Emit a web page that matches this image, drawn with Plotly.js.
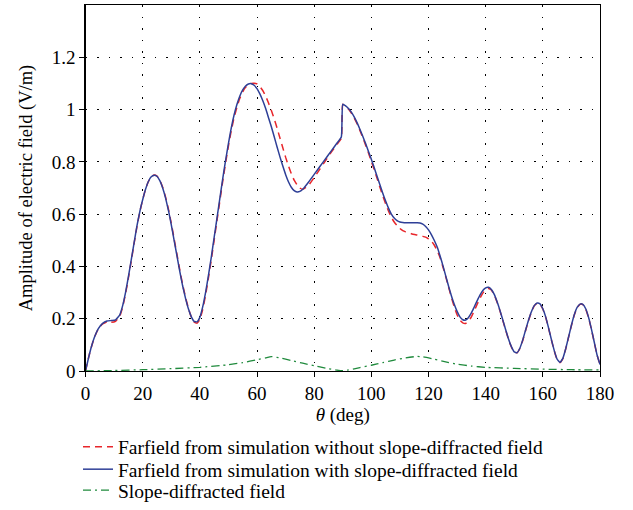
<!DOCTYPE html>
<html>
<head>
<meta charset="utf-8">
<script src="https://cdn.plot.ly/plotly-3.0.1.min.js"></script>
<style>html,body{margin:0;padding:0;background:#fff;}#chart{width:633px;height:510px;}</style>
</head>
<body>
<div id="chart"></div>
<script>
// Farfield with slope-diffracted field (blue, solid)
const thetaWith = [0,1.5,3,4.5,6,7.5,9,10.5,12,13,14,15,16,17,18,19,20,21,22,23,24,25,26,27,28,29,30,31,32,33,34,35,36,37,38,39,40,41,42,43,44,45,46,47,48,49,50,51,52,53,54,55,56,57,58,59,60,61,62,63,64,65,66,67,68,69,70,71,72,73,74,75,76,78,80,82,84,86,88,89.5,90,91,92,93,94,95,96,97,98,99,100,101,102,103,104,105,106,107,108,109,110,111,112,114,116,117,118,119,120,121,122,123,124,125,126,127,128,129,130,131,132,133,134,135,136,137,138,139,140,141,142,143,144,145,146,147,148,149,150,151,152,153,154,155,156,157,158,159,160,161,162,163,164,165,166,167,168,169,170,171,172,173,174,175,176,177,178,179,180];
const ampWith = [0,0.07,0.125,0.162,0.182,0.191,0.193,0.195,0.215,0.25,0.3,0.36,0.425,0.49,0.555,0.61,0.655,0.695,0.725,0.743,0.749,0.745,0.728,0.7,0.662,0.615,0.56,0.5,0.44,0.38,0.325,0.278,0.238,0.208,0.19,0.188,0.205,0.245,0.3,0.365,0.435,0.51,0.585,0.66,0.735,0.805,0.87,0.93,0.98,1.02,1.052,1.075,1.09,1.098,1.099,1.093,1.08,1.06,1.035,1.005,0.97,0.935,0.897,0.858,0.82,0.785,0.752,0.724,0.703,0.69,0.685,0.687,0.695,0.722,0.752,0.782,0.812,0.842,0.872,0.895,1.02,1.014,1.004,0.99,0.972,0.95,0.925,0.898,0.87,0.84,0.81,0.778,0.745,0.712,0.68,0.65,0.623,0.6,0.585,0.575,0.57,0.568,0.567,0.567,0.567,0.566,0.562,0.553,0.54,0.522,0.5,0.475,0.442,0.405,0.365,0.325,0.288,0.255,0.228,0.207,0.196,0.195,0.205,0.222,0.245,0.268,0.29,0.308,0.318,0.32,0.312,0.293,0.265,0.232,0.195,0.158,0.122,0.093,0.073,0.07,0.088,0.12,0.158,0.195,0.227,0.25,0.26,0.257,0.238,0.207,0.165,0.12,0.078,0.045,0.033,0.048,0.085,0.13,0.175,0.215,0.243,0.256,0.255,0.238,0.205,0.16,0.11,0.06,0.025,0.012];

// Farfield without slope-diffracted field (red, dashed)
const thetaWithout = [0,1.5,3,4.5,6,7.5,9,10.5,12,13,14,15,16,17,18,19,20,21,22,23,24,25,26,27,28,29,30,31,32,33,34,35,36,37,38,39,40,41,42,43,44,45,46,47,48,49,50,51,52,53,54,55,56,57,58,59,60,61,62,63,64,65,66,67,68,69,70,71,72,73,74,75,76,78,80,82,84,86,88,89.5,90,91,92,93,94,95,96,97,98,99,100,101,102,103,104,105,106,107,108,109,110,111,112,114,116,118,119,120,121,122,123,124,125,126,127,128,129,130,131,132,133,134,135,136,137,138,139,140,141,142,143,144,145,146,147,148,149,150,151,152,153,154,155,156,157,158,159,160,161,162,163,164,165,166,167,168,169,170,171,172,173,174,175,176,177,178,179,180];
const ampWithout = [0,0.07,0.125,0.162,0.18,0.188,0.186,0.19,0.21,0.245,0.295,0.355,0.42,0.487,0.552,0.608,0.655,0.695,0.725,0.743,0.75,0.746,0.73,0.703,0.666,0.62,0.566,0.506,0.446,0.386,0.33,0.282,0.24,0.207,0.187,0.183,0.197,0.235,0.29,0.355,0.425,0.5,0.575,0.65,0.725,0.795,0.86,0.92,0.97,1.01,1.043,1.068,1.085,1.095,1.1,1.101,1.098,1.088,1.073,1.052,1.026,0.997,0.965,0.93,0.892,0.855,0.818,0.785,0.755,0.73,0.712,0.7,0.695,0.71,0.74,0.772,0.805,0.837,0.867,0.89,1.02,1.013,1.002,0.987,0.968,0.946,0.92,0.893,0.864,0.834,0.802,0.77,0.737,0.703,0.67,0.64,0.612,0.588,0.57,0.556,0.545,0.537,0.532,0.525,0.52,0.515,0.512,0.505,0.497,0.482,0.462,0.435,0.4,0.362,0.322,0.282,0.246,0.215,0.194,0.184,0.182,0.19,0.207,0.23,0.255,0.278,0.298,0.312,0.316,0.31,0.291,0.263,0.23,0.193,0.156,0.121,0.092,0.072,0.07,0.087,0.118,0.156,0.193,0.226,0.249,0.259,0.256,0.237,0.206,0.164,0.119,0.077,0.044,0.032,0.047,0.084,0.129,0.174,0.214,0.242,0.255,0.254,0.237,0.204,0.159,0.109,0.06,0.025,0.012];

// Slope-diffracted field (green, dash-dot)
const thetaSlope = [0,10,20,30,40,50,55,60,63,65,68,72,76,80,84,88,90,92,96,100,104,108,112,116,118,122,126,130,135,140,150,160,170,180];
const ampSlope = [0,0.002,0.005,0.009,0.014,0.024,0.032,0.043,0.05,0.055,0.05,0.04,0.03,0.02,0.011,0.003,0.001,0.004,0.013,0.022,0.032,0.042,0.05,0.056,0.054,0.045,0.035,0.026,0.019,0.014,0.01,0.007,0.005,0.004];

const xTicks = [0,20,40,60,80,100,120,140,160,180];
const yTicks = [0,0.2,0.4,0.6,0.8,1,1.2];
const yTickLabels = ['0','0.2','0.4','0.6','0.8','1','1.2'];

const legendNames = [
  'Farfield from simulation without slope-diffracted field',
  'Farfield from simulation with slope-diffracted field',
  'Slope-diffracted field'
];

const FONT = 'Liberation Serif, Times New Roman, serif';

const traces = [
  {x: thetaWithout, y: ampWithout, type: 'scatter', mode: 'lines', name: legendNames[0], legend: 'legend',
   line: {color: '#e8262b', width: 1.5, dash: '7px,5px', shape: 'spline', smoothing: 0.4}},
  {x: thetaWith, y: ampWith, type: 'scatter', mode: 'lines', name: legendNames[1], legend: 'legend2',
   line: {color: '#2e3f97', width: 1.5, shape: 'spline', smoothing: 0.4}},
  {x: thetaSlope, y: ampSlope, type: 'scatter', mode: 'lines', name: legendNames[2], legend: 'legend3',
   line: {color: '#1f8a3c', width: 1.3, dash: '8px,4px,2px,4px', shape: 'spline', smoothing: 0.4}}
];

const axisCommon = {
  showline: true, linecolor: '#000', linewidth: 1.2, mirror: true,
  ticks: 'outside', ticklen: 5, tickcolor: '#000', tickwidth: 1,
  showgrid: true, gridcolor: '#000', gridwidth: 1, griddash: '1.5px,10px',
  zeroline: false, automargin: false,
  tickfont: {family: FONT, size: 19, color: '#000'}
};

const W = 633, H = 510;
function legendAt(yCenter) {
  return {x: 78 / W, xanchor: 'left', y: (H - yCenter) / H, yanchor: 'middle',
          font: {family: FONT, size: 19.5, color: '#000'},
          bgcolor: 'rgba(0,0,0,0)', borderwidth: 0};
}
const legendBottom = Object.assign(legendAt(493), {y: 0, yanchor: 'bottom'});
const layout = {
  width: W, height: H,
  margin: {l: 0, r: 0, t: 0, b: 0, pad: 0},
  paper_bgcolor: '#fff', plot_bgcolor: '#fff',
  showlegend: true,
  legend: legendAt(447),
  legend2: legendAt(469.5),
  legend3: legendBottom,
  xaxis: Object.assign({}, axisCommon, {
    domain: [85.5 / W, 600 / W],
    range: [0, 180], tickvals: xTicks, ticktext: xTicks.map(String),
    title: {text: '<i>θ</i> (deg)', font: {family: FONT, size: 19, color: '#000'}, standoff: 4}
  }),
  yaxis: Object.assign({}, axisCommon, {
    domain: [(H - 371) / H, (H - 5) / H],
    range: [0, 1.4], tickvals: yTicks, ticktext: yTickLabels,
    title: {text: 'Amplitude of electric field (V/m)', font: {family: FONT, size: 18.5, color: '#000'}, standoff: 14}
  })
};

Plotly.newPlot('chart', traces, layout, {displayModeBar: false, staticPlot: true});
</script>
</body>
</html>
